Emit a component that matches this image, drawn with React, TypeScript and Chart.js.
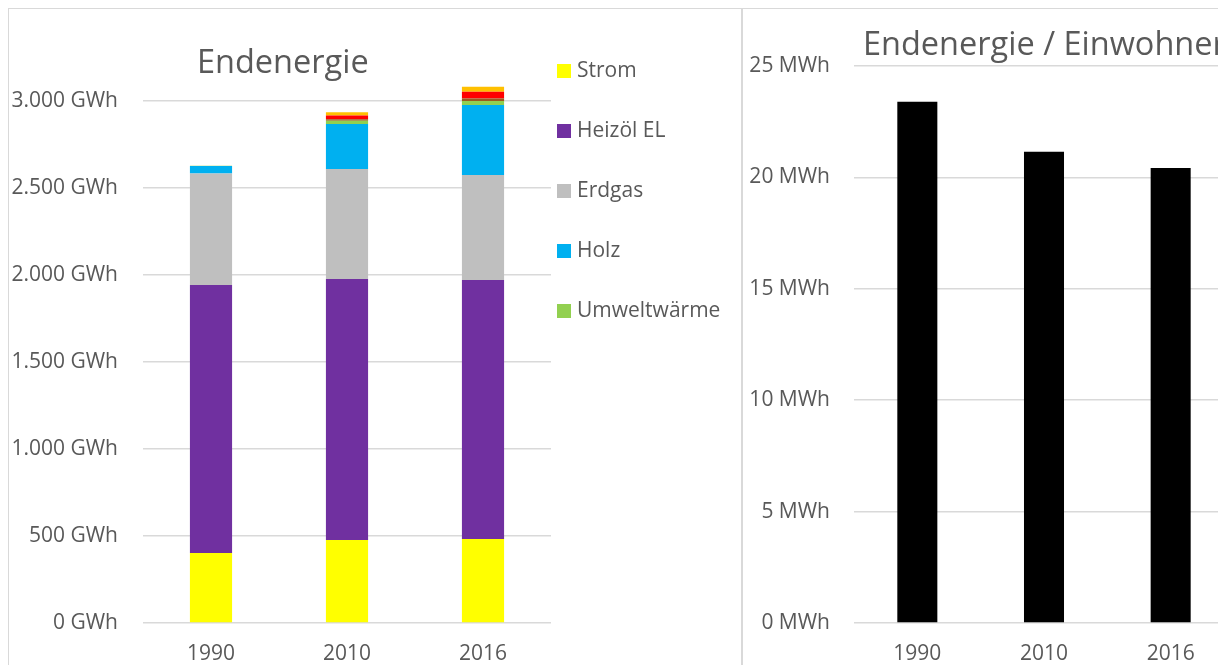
import React, { useEffect, useRef } from "react";
import { Chart, registerables } from "chart.js";

Chart.register(...registerables);

// ---- data ----
const years = ["1990", "2010", "2016"];
const strom = [402, 477, 483];
const heizoelEL = [1541, 1500, 1488];
const erdgas = [641, 632, 604];
const holz = [42, 259, 402];
const umweltwaerme = [2, 19, 23];
const biogas = [0, 8, 15];
const fluessiggas = [0, 21, 38];
const sonnenkollektoren = [0, 19, 29];
const seriesNames = ["Strom", "Heizöl EL", "Erdgas", "Holz", "Umweltwärme", "Biogas", "Flüssiggas", "Sonnenkollektoren"];
const seriesColors = ["#FFFF00", "#7030A0", "#BFBFBF", "#00B0F0", "#92D050", "#9C5B1E", "#FF0000", "#FFC000"];
const perCapitaMWh = [23.4, 21.15, 20.42];
const gwhMax = 3000;
const gwhStep = 500;
const mwhMax = 25;
const mwhStep = 5;
const titleLeft = "Endenergie";
const titleRight = "Endenergie / Einwohner";

const FONT = "'Open Sans', sans-serif";
const TEXT = "#595959";
const GRID = "#d9d9d9";

function fmtThousands(v: number): string {
  return String(Math.round(v)).replace(/\B(?=(\d{3})+(?!\d))/g, ".");
}

function makeTitlePlugin(text: string, x: number, y: number) {
  return {
    id: "customTitle",
    afterDraw(chart: any) {
      const ctx = chart.ctx;
      ctx.save();
      ctx.font = `32.5px ${FONT}`;
      ctx.fillStyle = TEXT;
      ctx.textAlign = "left";
      ctx.textBaseline = "alphabetic";
      ctx.fillText(text, x, y);
      ctx.restore();
    },
  };
}

const sideLegendPlugin = {
  id: "sideLegend",
  afterDraw(chart: any) {
    const ctx = chart.ctx;
    const a = chart.chartArea;
    ctx.save();
    ctx.font = `21px ${FONT}`;
    ctx.textBaseline = "middle";
    ctx.textAlign = "left";
    chart.data.datasets.slice(0, 5).forEach((ds: any, i: number) => {
      const y = 61 + i * 60;
      ctx.fillStyle = ds.backgroundColor;
      ctx.fillRect(a.right + 6, y - 6, 14, 14);
      ctx.fillStyle = TEXT;
      ctx.fillText(ds.label, a.right + 26, y + 1);
    });
    ctx.restore();
  },
};

const seriesValues = [strom, heizoelEL, erdgas, holz, umweltwaerme, biogas, fluessiggas, sonnenkollektoren];

function LeftChart() {
  const ref = useRef<HTMLCanvasElement>(null);
  useEffect(() => {
    const chart = new Chart(ref.current!, {
      type: "bar",
      data: {
        labels: years,
        datasets: seriesNames.map((name, i) => ({
          label: name,
          data: seriesValues[i],
          backgroundColor: seriesColors[i],
          borderWidth: 0,
          barPercentage: 0.31,
          categoryPercentage: 1,
          clip: false as any,
        })),
      },
      options: {
        responsive: false,
        animation: false,
        devicePixelRatio: 1,
        layout: { padding: { left: 0, right: 190, top: 92, bottom: 16 } },
        plugins: { legend: { display: false }, title: { display: false }, tooltip: { enabled: false } },
        scales: {
          x: {
            stacked: true,
            grid: { display: false },
            border: { display: false },
            ticks: { color: TEXT, font: { family: FONT, size: 21 }, padding: 10 },
            afterFit: (s: any) => { s.height = 50; },
          },
          y: {
            stacked: true,
            min: 0,
            max: gwhMax,
            grid: { color: GRID, lineWidth: 1.5, drawTicks: false },
            border: { display: false },
            ticks: {
              stepSize: gwhStep,
              color: TEXT,
              font: { family: FONT, size: 21 },
              padding: 25,
              callback: (v: any) => `${fmtThousands(Number(v))} GWh`,
            },
            afterFit: (s: any) => { s.width = 134; },
          },
        },
      },
      plugins: [makeTitlePlugin(titleLeft, 188, 64), sideLegendPlugin],
    } as any);
    return () => chart.destroy();
  }, []);
  return <canvas ref={ref} width={732} height={680} style={{ display: "block" }} />;
}

function RightChart() {
  const ref = useRef<HTMLCanvasElement>(null);
  useEffect(() => {
    const chart = new Chart(ref.current!, {
      type: "bar",
      data: {
        labels: years,
        datasets: [
          {
            label: titleRight,
            data: perCapitaMWh,
            backgroundColor: "#000000",
            borderWidth: 0,
            barPercentage: 0.316,
            categoryPercentage: 1,
          },
        ],
      },
      options: {
        responsive: false,
        animation: false,
        devicePixelRatio: 1,
        layout: { padding: { left: 0, right: 29, top: 57, bottom: 16 } },
        plugins: { legend: { display: false }, title: { display: false }, tooltip: { enabled: false } },
        scales: {
          x: {
            grid: { display: false },
            border: { display: false },
            ticks: { color: TEXT, font: { family: FONT, size: 21 }, padding: 10 },
            afterFit: (s: any) => { s.height = 50; },
          },
          y: {
            min: 0,
            max: mwhMax,
            grid: { color: GRID, lineWidth: 1.5, drawTicks: false },
            border: { display: false },
            ticks: {
              stepSize: mwhStep,
              color: TEXT,
              font: { family: FONT, size: 21 },
              padding: 24,
              callback: (v: any) => `${fmtThousands(Number(v))} MWh`,
            },
            afterFit: (s: any) => { s.width = 111; },
          },
        },
      },
      plugins: [makeTitlePlugin(titleRight, 120, 46)],
    } as any);
    return () => chart.destroy();
  }, []);
  return <canvas ref={ref} width={520} height={680} style={{ display: "block" }} />;
}

export default function App() {
  useEffect(() => {
    document.documentElement.style.overflow = "hidden";
    document.body.style.overflow = "hidden";
  }, []);
  const panel: React.CSSProperties = {
    position: "absolute",
    top: 0,
    border: `1px solid ${GRID}`,
    boxSizing: "border-box",
    background: "#ffffff",
    overflow: "hidden",
  };
  return (
    <div style={{ position: "relative", width: 1218, height: 700, overflow: "hidden" }}>
      <div style={{ ...panel, left: 0, width: 734, height: 700 }}>
        <LeftChart />
      </div>
      <div style={{ ...panel, left: 734, width: 522, height: 700 }}>
        <RightChart />
      </div>
    </div>
  );
}
